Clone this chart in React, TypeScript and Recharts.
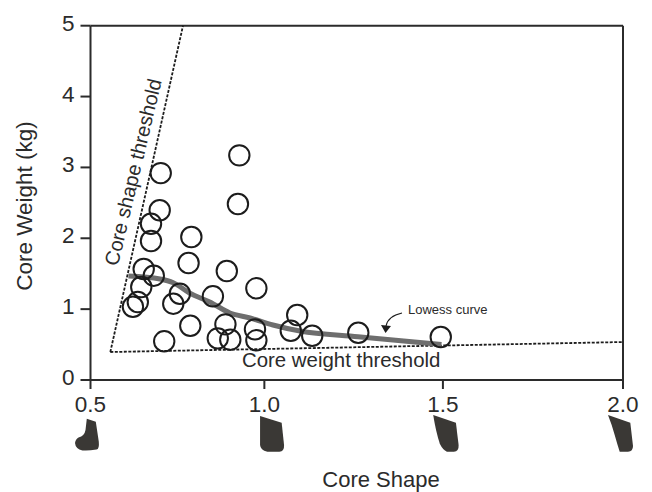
import { ComposedChart, Line, Scatter, XAxis, YAxis, ReferenceLine, Customized } from 'recharts';

const coreShape = [0.928, 0.924, 0.702, 0.699, 0.674, 0.674, 0.79, 0.782, 0.892, 0.977, 0.653, 0.682, 0.646, 0.757, 0.852, 0.636, 0.622, 0.738, 0.787, 0.888, 0.866, 0.902, 0.973, 0.977, 0.712, 1.092, 1.074, 1.134, 1.263, 1.494];
const coreWeight = [3.17, 2.484, 2.92, 2.395, 2.205, 1.962, 2.018, 1.651, 1.538, 1.294, 1.566, 1.472, 1.313, 1.217, 1.181, 1.101, 1.034, 1.077, 0.766, 0.785, 0.588, 0.569, 0.715, 0.56, 0.546, 0.917, 0.695, 0.625, 0.667, 0.607];

const lowessX = [0.609, 0.7, 0.738, 0.786, 0.843, 0.901, 0.959, 1.024, 1.1, 1.262, 1.496];
const lowessY = [1.467, 1.425, 1.373, 1.224, 1.101, 0.946, 0.875, 0.776, 0.691, 0.61, 0.5];

const shapeThresholdX = [0.557, 0.766];
const shapeThresholdY = [0.395, 5];
const weightThresholdX = [0.557, 2.0];
const weightThresholdY = [0.395, 0.536];

const xTicks = [0.5, 1.0, 1.5, 2.0];
const yTicks = [0, 1, 2, 3, 4, 5];

const toRows = (xs: number[], ys: number[]) => xs.map((x, i) => ({ x, y: ys[i] }));

const FONT = '"Liberation Sans", Arial, sans-serif';
const INK = '#2b2b2b';

// the drawn x axis is not quite even, so the scale bends at each tick
const knotFractions = [0, 0.3265, 0.6618, 1];

function unevenScale(dom: number[] = [0.5, 2], ran: number[] = [0, 1]) {
  const f: any = (v: number) => {
    const i = Math.min(Math.max(Math.floor((v - xTicks[0]) / 0.5), 0), 2);
    const t = (v - xTicks[i]) / 0.5;
    const frac = knotFractions[i] + t * (knotFractions[i + 1] - knotFractions[i]);
    return ran[0] + frac * (ran[1] - ran[0]);
  };
  f.domain = (d?: number[]) => (d ? ((dom = d), f) : dom);
  f.range = (r?: number[]) => (r ? ((ran = r), f) : ran);
  f.copy = () => unevenScale(dom, ran);
  f.ticks = () => xTicks;
  return f;
}

// little core outlines that sit under the x ticks, measured from the axis line
const silhouettes: Record<string, string> = {
  '0.5': 'M-3.7,38.7 L5.3,41.7 L8.3,61.7 Q9,69 6,69.6 Q-3,71 -8,70.4 Q-15,69 -15.5,63 Q-15,59 -12,57.5 Q-6,56 -5,50 Z',
  '1': 'M-4.3,36 L17.3,42.7 L19.7,65 Q20,71.5 15,71.7 L3,71.7 Q-4,70 -4.3,65 Z',
  '1.5': 'M-9.7,35 L13,42.7 L15.7,65 Q16,71.5 11,71.7 L4,71.7 Q0,70 -3,64 Q-7,52 -9.7,35 Z',
  '2': 'M-15,35 L7.3,42.7 L10,66 Q10,71.5 5,71.7 L-3.3,71.7 Q-5.5,65 -8.3,55 Q-11,45 -15,35 Z',
};

function ShapeTick({ x, y, payload }: any) {
  const v = payload.value;
  return (
    <g>
      <text x={x} y={y + 20.5} textAnchor="middle" fontFamily={FONT} fontSize={22.5} fill={INK}>
        {Number(v).toFixed(1)}
      </text>
      <path d={silhouettes[String(v)]} transform={`translate(${x},${y - 11})`} fill="#3a3835" />
    </g>
  );
}

function WeightTick({ x, y, payload }: any) {
  return (
    <text x={x - 4} y={y + 5} textAnchor="end" fontFamily={FONT} fontSize={22.5} fill={INK}>
      {payload.value}
    </text>
  );
}

function Circle({ cx, cy }: any) {
  return <circle cx={cx} cy={cy} r={10.2} fill="none" stroke="#1c1c1c" strokeWidth={2} />;
}

function Annotations() {
  return (
    <g fontFamily={FONT} fill={INK}>
      <text x={24} y={206} transform="rotate(-90 24 206)" textAnchor="middle" dominantBaseline="central" fontSize={22.5}>Core Weight (kg)</text>
      <text x={381} y={487} textAnchor="middle" fontSize={22}>Core Shape</text>
      <text x={133} y={172} transform="rotate(-76.7 133 172)" textAnchor="middle" dominantBaseline="central" fontSize={20}>Core shape threshold</text>
      <text x={242} y={367} fontSize={20.4}>Core weight threshold</text>
      <text x={408} y={314} fontSize={13}>Lowess curve</text>
      <path d="M402,313 Q388,316 386,326" fill="none" stroke="#1c1c1c" strokeWidth={1.2} />
      <path d="M381,325 L391,326 L385.5,333 Z" fill="#1c1c1c" />
    </g>
  );
}

export default function App() {
  return (
    <div style={{ position: 'absolute', left: 0, top: 0, width: 652, height: 492, background: '#fff' }}>
      <ComposedChart width={652} height={492} margin={{ top: 25.7, right: 29, bottom: 0, left: 0 }}>
        <XAxis
          type="number"
          dataKey="x"
          domain={[0.5, 2]}
          scale={unevenScale()}
          ticks={xTicks}
          tick={<ShapeTick />}
          tickSize={9}
          height={112}
          stroke={INK}
          strokeWidth={2}
          interval={0}
          allowDuplicatedCategory={false}
        />
        <YAxis
          type="number"
          domain={[0, 5]}
          ticks={yTicks}
          width={90.5}
          tickSize={10}
          tick={<WeightTick />}
          stroke={INK}
          strokeWidth={2}
          interval={0}
        />
        <ReferenceLine y={5} stroke={INK} strokeWidth={2} />
        <ReferenceLine x={2} stroke={INK} strokeWidth={2} />
        <Line data={toRows(shapeThresholdX, shapeThresholdY)} dataKey="y" dot={false} stroke="#1c1c1c" strokeWidth={1.8} strokeDasharray="3 1.5" isAnimationActive={false} />
        <Line data={toRows(weightThresholdX, weightThresholdY)} dataKey="y" dot={false} stroke="#1c1c1c" strokeWidth={1.8} strokeDasharray="3 1.5" isAnimationActive={false} />
        <Line data={toRows(lowessX, lowessY)} dataKey="y" type="monotone" dot={false} stroke="#6e6e6e" strokeWidth={5} isAnimationActive={false} />
        <Scatter data={toRows(coreShape, coreWeight)} dataKey="y" shape={<Circle />} isAnimationActive={false} />
        <Customized component={<Annotations />} />
      </ComposedChart>
    </div>
  );
}
